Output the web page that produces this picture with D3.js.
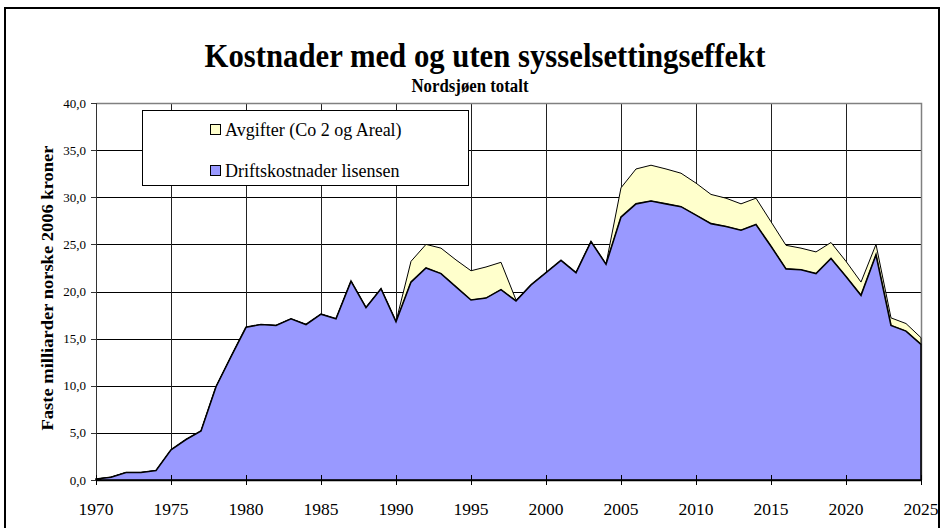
<!DOCTYPE html>
<html>
<head>
<meta charset="utf-8">
<script src="https://cdn.jsdelivr.net/npm/d3@7"></script>
<style>
    body { margin: 0; background: #fff; }
    svg { display: block; font-family: "Liberation Serif", "Times New Roman", serif; }
</style>
</head>
<body>
<svg id="chart" width="944" height="528"></svg>
<script>
// Years on the x axis
const years = d3.range(1970, 2026);

// Driftskostnader lisensen (bottom series)
const drift = [
    0.1, 0.3, 0.8, 0.8, 1.0, 3.2, 4.3, 5.2, 9.9, 13.1,
    16.2, 16.5, 16.4, 17.1, 16.5, 17.6, 17.1, 21.1, 18.3, 20.3,
    16.8, 21.0, 22.5, 21.9, 20.5, 19.1, 19.3, 20.2, 19.0, 20.7,
    22.0, 23.3, 22.0, 25.3, 22.9, 27.9, 29.3, 29.6, 29.3, 29.0,
    28.1, 27.2, 26.9, 26.5, 27.1, 24.8, 22.4, 22.3, 21.9, 23.5,
    21.6, 19.6, 23.9, 16.4, 15.8, 14.4
];

// Avgifter (Co 2 og Areal) (stacked on top)
const avgifter = [
    0, 0, 0, 0, 0, 0, 0, 0, 0, 0,
    0, 0, 0, 0, 0, 0, 0, 0, 0, 0,
    0, 2.2, 2.5, 2.7, 2.85, 3.1, 3.3, 2.9, 0.1, 0,
    0, 0, 0, 0, 0, 3.1, 3.7, 3.8, 3.7, 3.55,
    3.4, 3.1, 3.0, 2.8, 2.8, 2.6, 2.5, 2.3, 2.3, 1.7,
    1.6, 1.4, 1.1, 0.8, 0.8, 0.7
];

const seriesNames = ["Avgifter (Co 2 og Areal)", "Driftskostnader lisensen"];
const seriesColors = ["#FFFFCC", "#9999FF"];
const yTicks = [0, 5, 10, 15, 20, 25, 30, 35, 40];
const xTicks = d3.range(1970, 2026, 5);

const svg = d3.select("#chart");

// outer frame
svg.append("rect")
    .attr("x", 5).attr("y", 8)
    .attr("width", 934).attr("height", 530)
    .attr("fill", "#fff")
    .attr("stroke", "#000")
    .attr("stroke-width", 2);

// titles
svg.append("text")
    .attr("x", 485).attr("y", 67)
    .attr("text-anchor", "middle")
    .attr("font-size", 33)
    .attr("font-weight", "bold")
    .attr("textLength", 561)
    .attr("lengthAdjust", "spacingAndGlyphs")
    .text("Kostnader med og uten sysselsettingseffekt");

svg.append("text")
    .attr("x", 470).attr("y", 92)
    .attr("text-anchor", "middle")
    .attr("font-size", 18)
    .attr("font-weight", "bold")
    .attr("textLength", 117)
    .attr("lengthAdjust", "spacingAndGlyphs")
    .text("Nordsjøen totalt");

const plotLeft = 96, plotRight = 921, plotTop = 103, plotBottom = 480;

const x = d3.scaleLinear().domain([1970, 2025]).range([plotLeft, plotRight]);
const y = d3.scaleLinear().domain([0, 40]).range([plotBottom, plotTop]);

const fmt = d3.formatLocale({decimal: ",", thousands: " ", grouping: [3], currency: ["", ""]}).format(".1f");

// gridlines
svg.append("g")
    .selectAll("line")
    .data(yTicks.filter(d => d > 0 && d < 40))
    .enter()
    .append("line")
    .attr("x1", plotLeft).attr("x2", plotRight)
    .attr("y1", d => Math.round(y(d)) + 0.5)
    .attr("y2", d => Math.round(y(d)) + 0.5)
    .attr("stroke", "#000");

svg.append("g")
    .selectAll("line")
    .data(xTicks.filter(d => d > 1970 && d < 2025))
    .enter()
    .append("line")
    .attr("x1", d => Math.round(x(d)) + 0.5)
    .attr("x2", d => Math.round(x(d)) + 0.5)
    .attr("y1", plotTop).attr("y2", plotBottom)
    .attr("stroke", "#222");

// plot border (top and right grey)
svg.append("path")
    .attr("d", `M${plotLeft + 0.5},${plotTop + 0.5}H${plotRight + 0.5}V${plotBottom}`)
    .attr("fill", "none")
    .attr("stroke", "#808080")
    .attr("stroke-width", 1.5);

// stacked areas
const rows = years.map((yr, i) => ({year: yr, drift: drift[i], total: drift[i] + avgifter[i]}));

const areaTop = d3.area()
    .x(d => x(d.year))
    .y0(d => y(d.drift))
    .y1(d => y(d.total));

const areaBottom = d3.area()
    .x(d => x(d.year))
    .y0(y(0))
    .y1(d => y(d.drift));

svg.append("path")
    .datum(rows)
    .attr("d", areaTop)
    .attr("fill", seriesColors[0])
    .attr("stroke", "#000")
    .attr("stroke-width", 1)
    .attr("stroke-linejoin", "miter");

svg.append("path")
    .datum(rows)
    .attr("d", areaBottom)
    .attr("fill", seriesColors[1])
    .attr("stroke", "#000")
    .attr("stroke-width", 1.6)
    .attr("stroke-linejoin", "miter");

// left axis line
svg.append("line")
    .attr("x1", plotLeft + 0.5).attr("x2", plotLeft + 0.5)
    .attr("y1", plotTop).attr("y2", plotBottom)
    .attr("stroke", "#333");

// bottom axis line
svg.append("line")
    .attr("x1", plotLeft).attr("x2", plotRight + 1)
    .attr("y1", plotBottom + 0.5).attr("y2", plotBottom + 0.5)
    .attr("stroke", "#000")
    .attr("stroke-width", 1.5);

// y ticks and labels
const yAxis = svg.append("g");
yAxis.selectAll("line")
    .data(yTicks)
    .enter()
    .append("line")
    .attr("x1", plotLeft - 5).attr("x2", plotLeft)
    .attr("y1", d => Math.round(y(d)) + 0.5)
    .attr("y2", d => Math.round(y(d)) + 0.5)
    .attr("stroke", "#333");
yAxis.selectAll("text")
    .data(yTicks)
    .enter()
    .append("text")
    .attr("x", plotLeft - 10)
    .attr("y", d => y(d) + 4.5)
    .attr("text-anchor", "end")
    .attr("font-size", 13)
    .text(d => fmt(d));

// x ticks and labels
const xAxis = svg.append("g");
xAxis.selectAll("line")
    .data(xTicks)
    .enter()
    .append("line")
    .attr("x1", d => Math.round(x(d)) + 0.5)
    .attr("x2", d => Math.round(x(d)) + 0.5)
    .attr("y1", plotBottom - 5).attr("y2", plotBottom + 5)
    .attr("stroke", "#000");
xAxis.selectAll("text")
    .data(xTicks)
    .enter()
    .append("text")
    .attr("x", d => x(d))
    .attr("y", 515)
    .attr("text-anchor", "middle")
    .attr("font-size", 17.5)
    .text(d => d);

// y axis title
svg.append("text")
    .attr("transform", `translate(53,288) rotate(-90)`)
    .attr("text-anchor", "middle")
    .attr("font-size", 17)
    .attr("font-weight", "bold")
    .attr("textLength", 285)
    .attr("lengthAdjust", "spacingAndGlyphs")
    .text("Faste milliarder norske 2006 kroner");

// legend
const legend = svg.append("g");
legend.append("rect")
    .attr("x", 142.5).attr("y", 110.5)
    .attr("width", 326).attr("height", 75)
    .attr("fill", "#fff")
    .attr("stroke", "#000");

const legendItems = legend.selectAll("g.item")
    .data(seriesNames)
    .enter()
    .append("g")
    .attr("class", "item")
    .attr("transform", (d, i) => `translate(210,${124 + i * 41})`);

legendItems.append("rect")
    .attr("x", 0.5).attr("y", 0.5)
    .attr("width", 10).attr("height", 10)
    .attr("fill", (d, i) => seriesColors[i])
    .attr("stroke", "#000");

legendItems.append("text")
    .attr("x", 15)
    .attr("y", 11.5)
    .attr("font-size", 18)
    .text(d => d);
</script>
</body>
</html>
